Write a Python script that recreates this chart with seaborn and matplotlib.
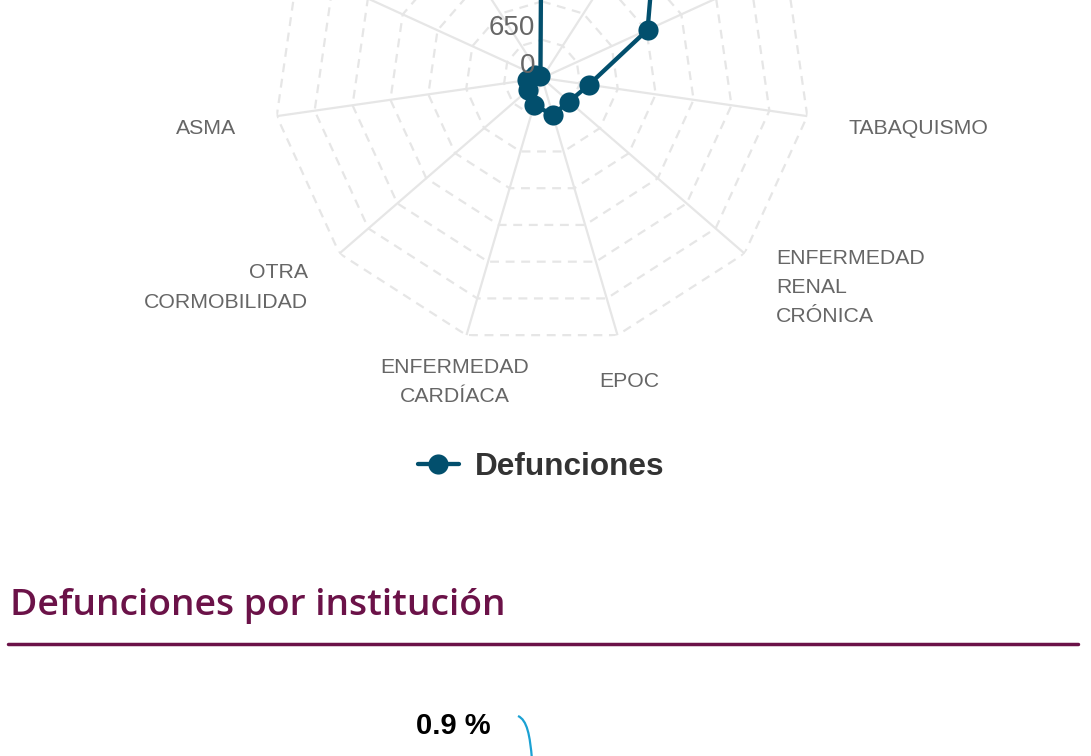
import numpy as np
import matplotlib
matplotlib.use("Agg")
import matplotlib.pyplot as plt
from matplotlib.lines import Line2D
from matplotlib.path import Path
from matplotlib.patches import PathPatch
import seaborn as sns

# ------------------------------------------------------------------
# Data (top categories are off-screen)
# ------------------------------------------------------------------
categories = [
    "HIPERTENSIÓN", "DIABETES", "OBESIDAD", "TABAQUISMO",
    "ENFERMEDAD\nRENAL\nCRÓNICA", "EPOC", "ENFERMEDAD\nCARDÍACA",
    "OTRA\nCORMOBILIDAD", "ASMA", "INMUNOSUPRESIÓN", "VIH/SIDA",
]
defunciones = [4300, 3670, 1970, 805, 611, 647, 484, 313, 260, 130, 50]
ring_ticks = [0, 650, 1300, 1950, 2600, 3250, 3900, 4550]
series_name = "Defunciones"
pie_label = "0.9 %"
section_title = "Defunciones por institución"

# ------------------------------------------------------------------
# Style
# ------------------------------------------------------------------
W, H = 1091, 756
SERIES_COLOUR = "#024f6d"
GRID_COLOUR = "#e6e6e6"
LABEL_COLOUR = "#666666"
TITLE_COLOUR = "#6b1248"

sns.set_style("white")
plt.rcParams["font.family"] = ["Liberation Sans", "DejaVu Sans"]

fig = plt.figure(figsize=(W / 100, H / 100), dpi=100)
fig.patch.set_facecolor("white")

# polar axes: centre (542, 78) px, radius 268 px
cx, cy, rad = 542, 78, 268
ax = fig.add_axes(
    [(cx - rad) / W, 1 - (cy + rad) / H, 2 * rad / W, 2 * rad / H],
    projection="polar",
)
ax.set_theta_zero_location("N")
ax.set_theta_direction(-1)
ax.set_ylim(0, ring_ticks[-1])
ax.grid(False)
ax.set_xticks([])
ax.set_yticks([])
ax.spines["polar"].set_visible(False)
ax.patch.set_visible(False)

n = len(categories)
theta = np.linspace(0, 2 * np.pi, n, endpoint=False)
theta_closed = np.append(theta, 2 * np.pi)

# polygon grid rings (dashed) and spokes (solid)
for r in ring_ticks[1:]:
    ax.plot(theta_closed, [r] * (n + 1), color=GRID_COLOUR, lw=1.6,
            ls=(0, (4, 3)), zorder=0)
for t in theta:
    ax.plot([t, t], [0, ring_ticks[-1]], color=GRID_COLOUR, lw=1.6, zorder=0)

# series
vals_closed = defunciones + defunciones[:1]
sns.lineplot(
    x=theta_closed, y=vals_closed, ax=ax, sort=False, estimator=None,
    color=SERIES_COLOUR, linewidth=3.1, marker="o", markersize=14.5,
    markeredgewidth=0, label=series_name, legend=False, zorder=5,
)

# radial value labels
for v in ring_ticks:
    ax.annotate(f"{v}", xy=(0, v), xytext=(-5, 8.6), textcoords="offset points",
                ha="right", va="center", fontsize=20, color=LABEL_COLOUR,
                annotation_clip=False, zorder=6)

# category labels
for t, lab in zip(theta, categories):
    s, c = np.sin(t), np.cos(t)
    ha = "left" if s > 0.3 else ("right" if s < -0.3 else "center")
    ax.annotate(lab, xy=(t, ring_ticks[-1]),
                xytext=(29.8 * s, 29.8 * c - 5.0), textcoords="offset points",
                ha=ha, va="center", multialignment=ha, linespacing=1.68,
                fontsize=15.3, color=LABEL_COLOUR, annotation_clip=False)

# legend
handles, labels = ax.get_legend_handles_labels()
fig.legend(handles, labels, loc="center", bbox_to_anchor=(541 / W, 1 - 467 / H),
           frameon=False, numpoints=1, handlelength=1.3, handletextpad=0.5,
           prop={"family": "Liberation Sans", "weight": "bold", "size": 22.7},
           labelcolor="#333333")

# next section heading and rule
fig.text(10 / W, 1 - 615 / H, section_title, fontsize=26.8,
         fontfamily="Open Sans", fontweight="semibold", color=TITLE_COLOUR,
         ha="left", va="baseline")
fig.add_artist(Line2D([8 / W, 1078 / W], [1 - 644 / H, 1 - 644 / H],
                      color=TITLE_COLOUR, lw=2.5, transform=fig.transFigure))

# start of the pie chart below (cut off)
fig.text(453 / W, 1 - 733.5 / H, pie_label, fontsize=21, fontweight="bold",
         color="black", ha="center", va="baseline")
conn = Path([(518 / W, 1 - 716 / H), (527 / W, 1 - 720 / H),
             (530 / W, 1 - 735 / H), (532 / W, 1 - 760 / H)],
            [Path.MOVETO, Path.CURVE4, Path.CURVE4, Path.CURVE4])
fig.add_artist(PathPatch(conn, fill=False, edgecolor="#1ba1d3", lw=1.6,
                         transform=fig.transFigure))

fig.savefig("out.png", dpi=100, facecolor="white")
plt.close(fig)
